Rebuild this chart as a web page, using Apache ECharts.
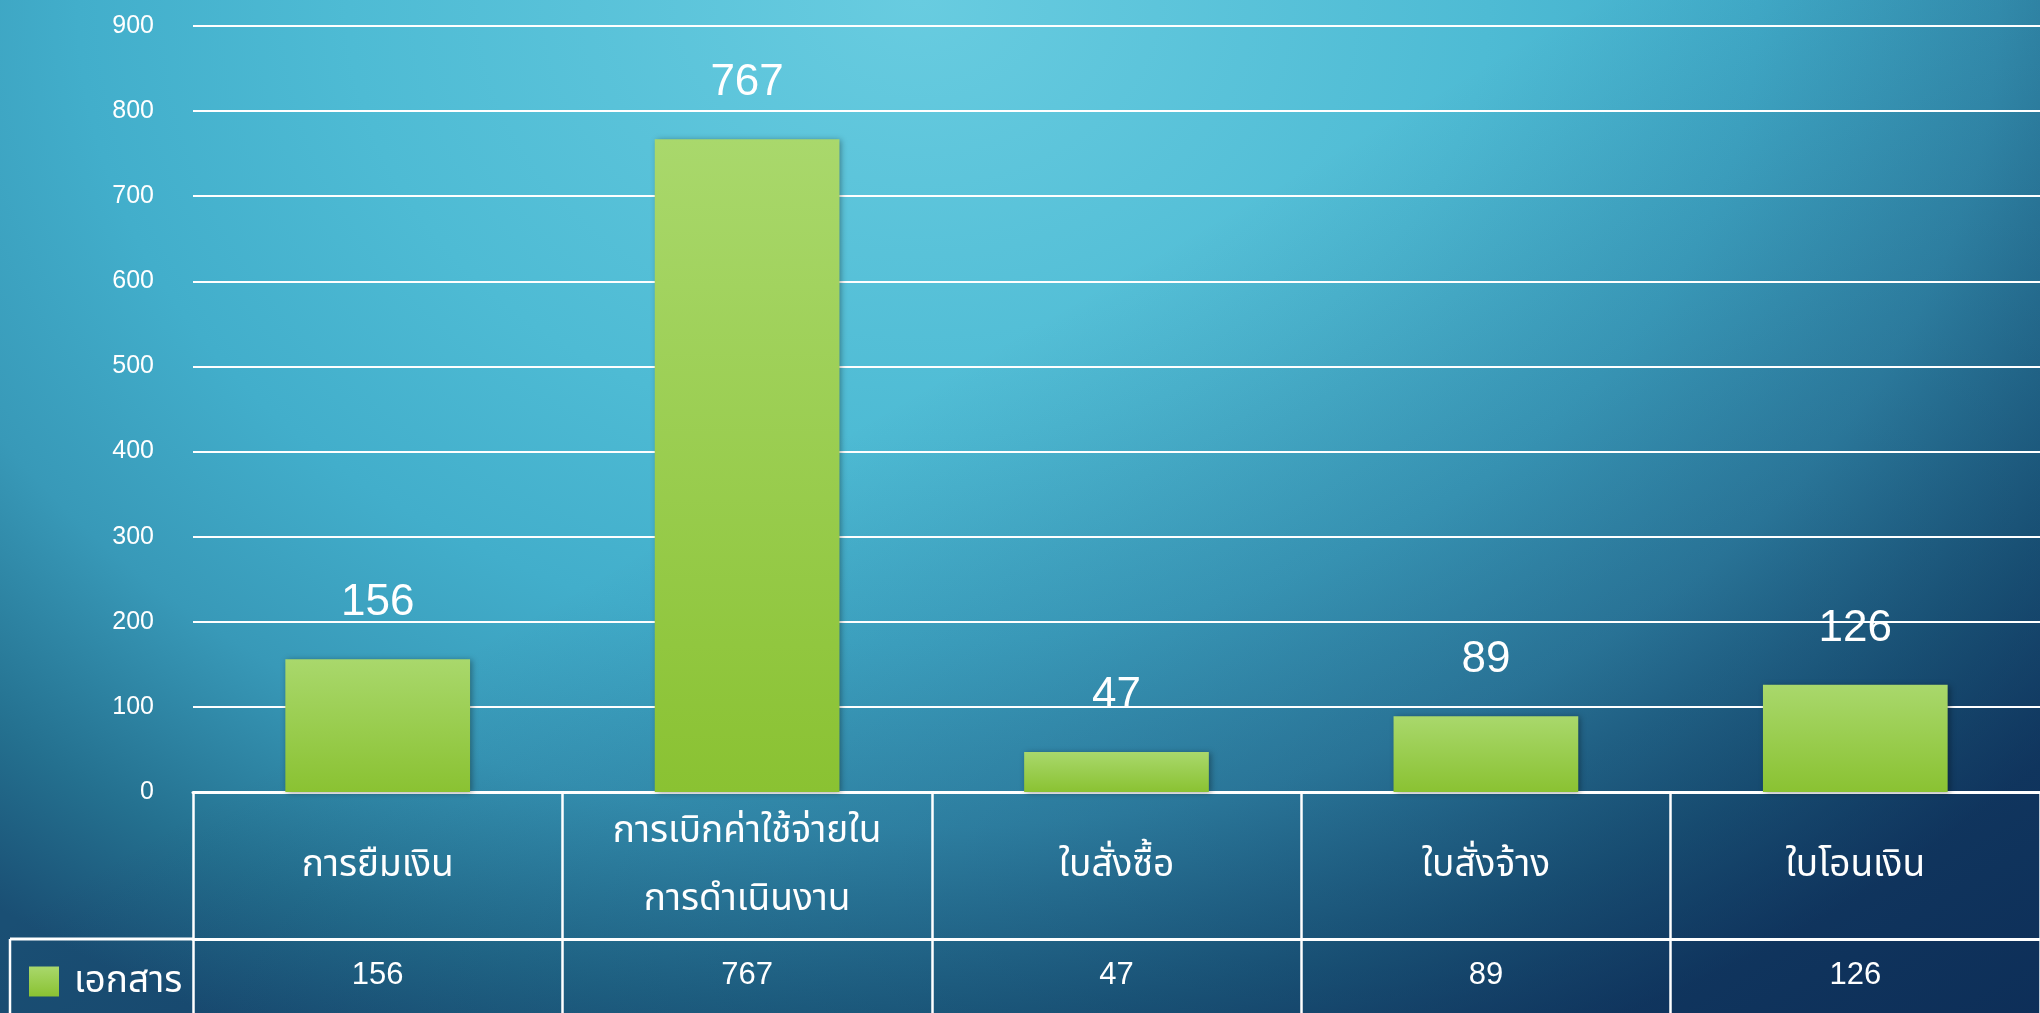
<!DOCTYPE html>
<html><head><meta charset="utf-8">
<script src="https://cdn.jsdelivr.net/npm/echarts@6/dist/echarts.min.js"></script>
<style>
html,body{margin:0;padding:0;width:2040px;height:1013px;overflow:hidden;}
#c{width:2040px;height:1013px;
background:
 linear-gradient(150deg, rgba(5,25,70,0) 42%, rgba(5,25,70,0.6) 100%),
 radial-gradient(ellipse 1500px 1150px at 45% 0%, #68cce0 0%, #4ebbd4 38%, #42aecb 56%, #3899b8 72%, #24708f 88%, #1a4f74 100%);}
</style></head><body><div id="c"></div>
<script>
const categories = ['การยืมเงิน', 'การเบิกค่าใช้จ่ายใน\nการดำเนินงาน', 'ใบสั่งซื้อ', 'ใบสั่งจ้าง', 'ใบโอนเงิน'];
const seriesName = 'เอกสาร';
const values = [156, 767, 47, 89, 126];
const yMin = 0, yMax = 900, yStep = 100;

const FONT = "'Liberation Sans', 'Noto Sans', 'Noto Sans Thai', sans-serif";
const WHITE = '#ffffff';
const chart = echarts.init(document.getElementById('c'));
const barColor = new echarts.graphic.LinearGradient(0, 0, 0, 1, [
  {offset: 0, color: '#a9d86c'}, {offset: 1, color: '#8ac232'}
]);
chart.setOption({
  animation: false,
  textStyle: {fontFamily: FONT},
  grid: [
    {left: 193, right: 0, top: 26, height: 766},
    {left: 193, right: 0, top: 792, height: 147},
    {left: 193, right: 0, top: 939, height: 74}
  ],
  xAxis: [
    {gridIndex: 0, type: 'category', data: categories,
     axisLine: {show: true, onZero: false, lineStyle: {color: WHITE, width: 3}},
     axisTick: {show: false}, axisLabel: {show: false}, splitLine: {show: false}},
    {gridIndex: 1, type: 'category', data: categories, position: 'top',
     axisLine: {show: false, onZero: false}, axisTick: {show: false},
     axisLabel: {show: true, inside: true, interval: 0, margin: 74, verticalAlign: 'middle',
                 color: WHITE, fontSize: 37, lineHeight: 68, fontFamily: FONT},
     splitLine: {show: true, interval: 0, lineStyle: {color: WHITE, width: 2.5}}},
    {gridIndex: 2, type: 'category', data: categories, position: 'top',
     axisLine: {show: true, onZero: false, lineStyle: {color: WHITE, width: 3}}, axisTick: {show: false},
     axisLabel: {show: true, inside: true, interval: 0, margin: 36, verticalAlign: 'middle',
                 color: WHITE, fontSize: 31, fontFamily: FONT,
                 formatter: (v, i) => String(values[i])},
     splitLine: {show: true, interval: 0, lineStyle: {color: WHITE, width: 2.5}}}
  ],
  yAxis: [
    {gridIndex: 0, type: 'value', min: yMin, max: yMax, interval: yStep,
     axisLine: {show: false}, axisTick: {show: false},
     axisLabel: {color: WHITE, fontSize: 25, margin: 39, fontFamily: FONT},
     splitLine: {show: true, lineStyle: {color: WHITE, width: 2}}},
    {gridIndex: 1, type: 'value', show: false},
    {gridIndex: 2, type: 'value', show: false}
  ],
  legend: {
    data: [seriesName], left: 29, top: 963, padding: 0,
    icon: 'rect', itemWidth: 30, itemHeight: 30,
    textStyle: {color: WHITE, fontSize: 37, fontFamily: FONT, padding: [0, 0, 0, 10]}
  },
  graphic: [
    {type: 'line', shape: {x1: 10, y1: 939, x2: 193, y2: 939}, style: {stroke: WHITE, lineWidth: 3}},
    {type: 'line', shape: {x1: 10, y1: 939, x2: 10, y2: 1013}, style: {stroke: WHITE, lineWidth: 2.5}}
  ],
  series: [{
    name: seriesName, type: 'bar', xAxisIndex: 0, yAxisIndex: 0,
    data: values, barWidth: '50%',
    itemStyle: {color: barColor, shadowColor: 'rgba(0,0,0,0.35)', shadowBlur: 6, shadowOffsetX: 2, shadowOffsetY: 1},
    label: {show: true, position: 'top', distance: 34, color: WHITE, fontSize: 44, fontFamily: FONT}
  }]
});
</script></body></html>
